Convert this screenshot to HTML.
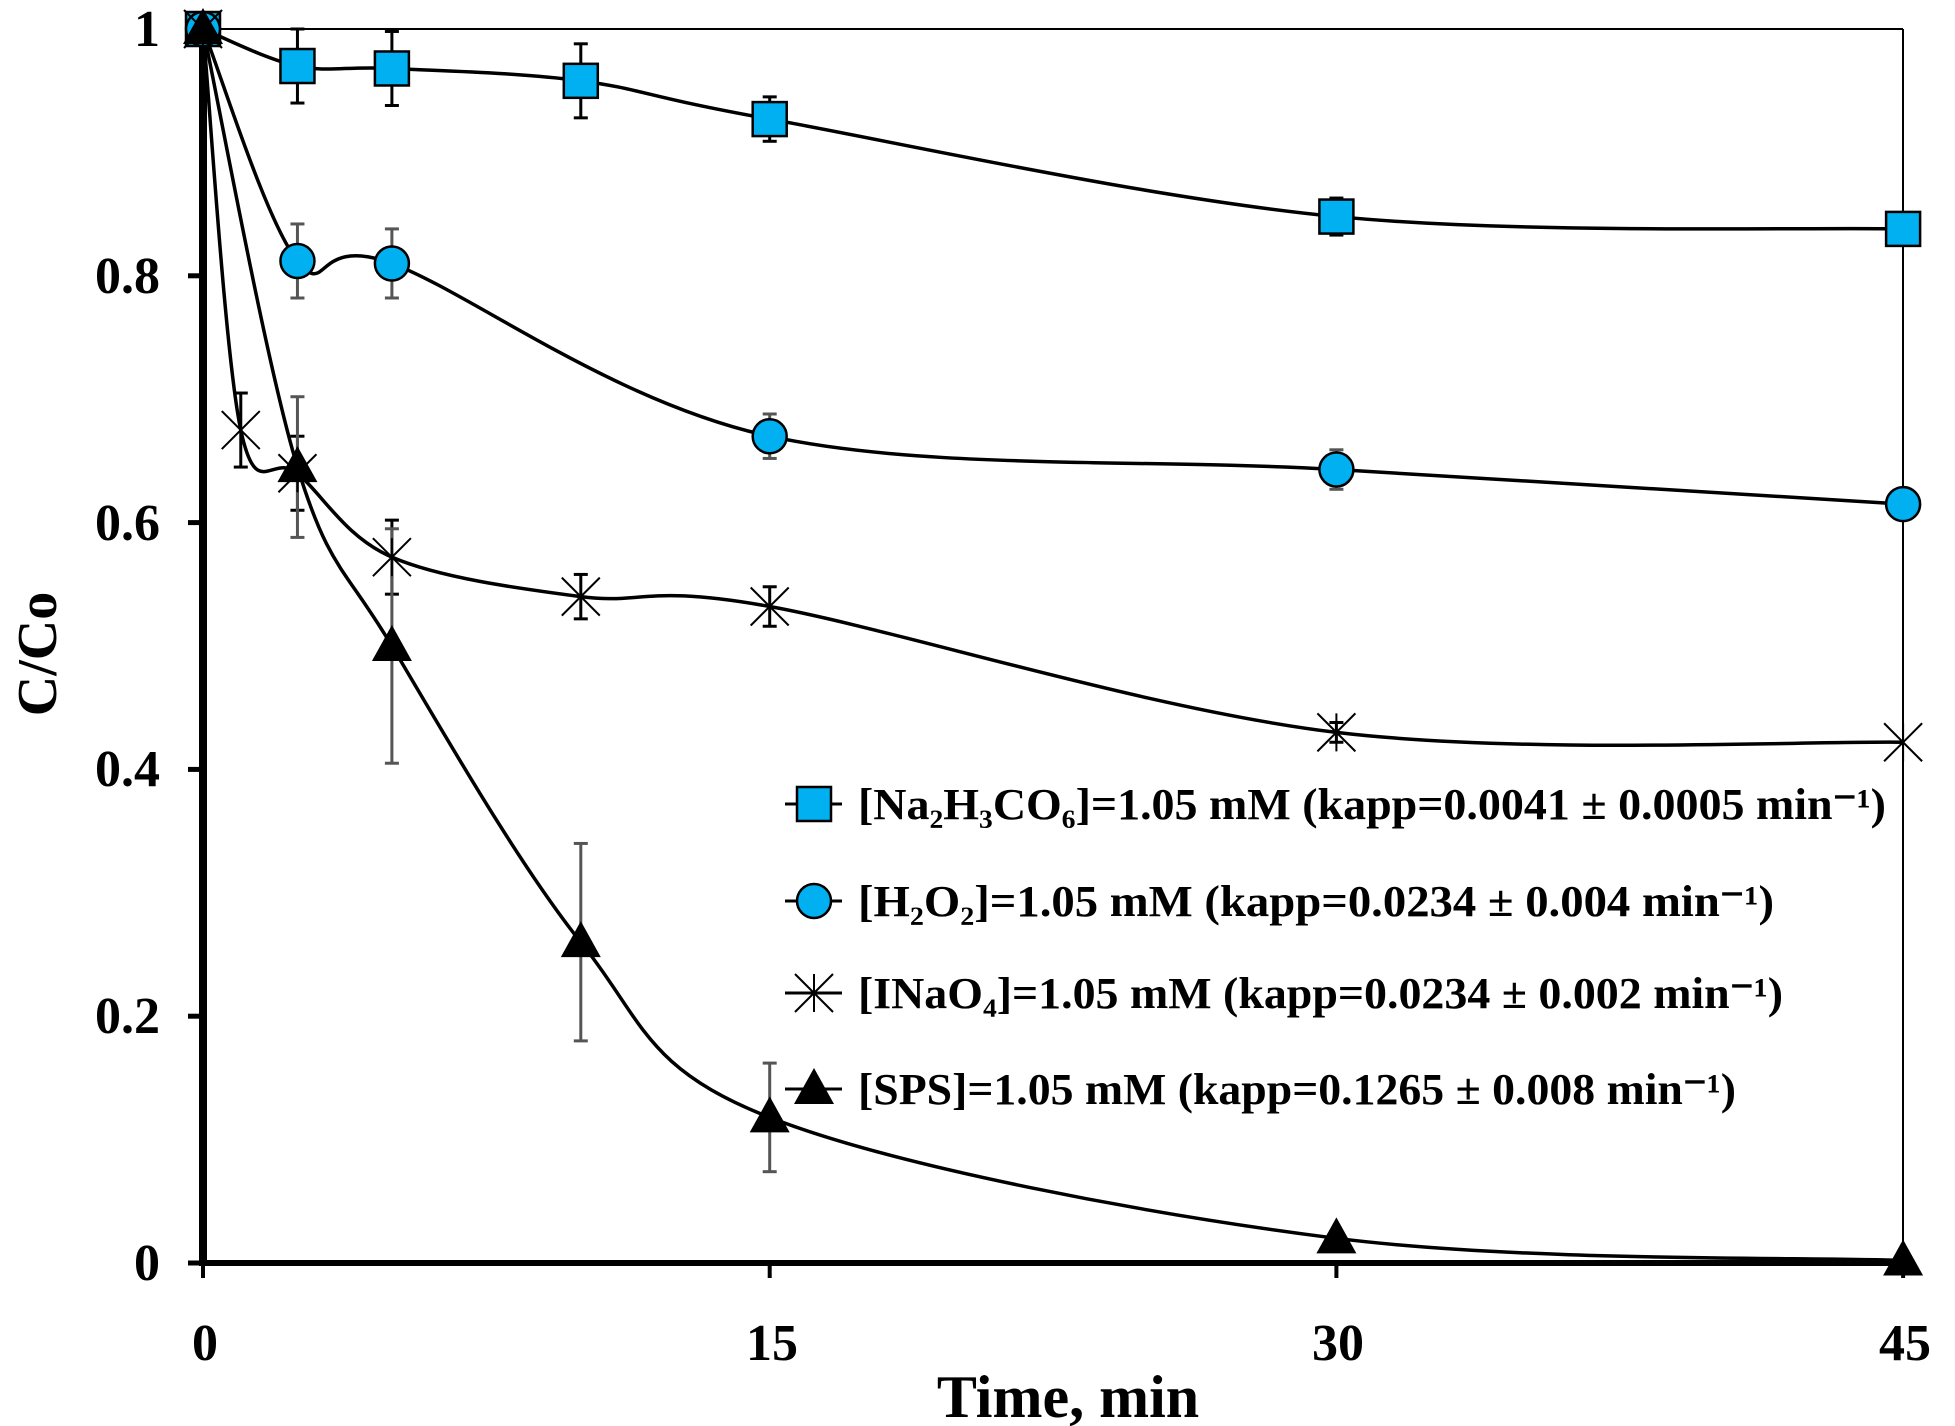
<!DOCTYPE html>
<html><head><meta charset="utf-8"><style>
body{margin:0;background:#fff}
svg{display:block}
text{font-family:"Liberation Serif",serif;font-weight:bold;fill:#000}
</style></head><body>
<svg id="s" width="1955" height="1426" viewBox="0 0 1955 1426" xmlns="http://www.w3.org/2000/svg">
<g id="g"></g>
<g font-size="52">
<text x="160" y="46" text-anchor="end">1</text>
<text x="160" y="293" text-anchor="end">0.8</text>
<text x="160" y="540" text-anchor="end">0.6</text>
<text x="160" y="786" text-anchor="end">0.4</text>
<text x="160" y="1033" text-anchor="end">0.2</text>
<text x="160" y="1280" text-anchor="end">0</text>
<text x="205" y="1360" text-anchor="middle">0</text>
<text x="772" y="1360" text-anchor="middle">15</text>
<text x="1338" y="1360" text-anchor="middle">30</text>
<text x="1905" y="1360" text-anchor="middle">45</text>
</g>
<text x="1068" y="1417" font-size="60" text-anchor="middle">Time, min</text>
<text transform="translate(56,654) rotate(-90)" font-size="56" text-anchor="middle">C/Co</text>
<g font-size="44">
<text x="858" y="819" textLength="1028" lengthAdjust="spacingAndGlyphs">[Na₂H₃CO₆]=1.05 mM (kapp=0.0041 ± 0.0005 min⁻¹)</text>
<text x="858" y="916" textLength="916" lengthAdjust="spacingAndGlyphs">[H₂O₂]=1.05 mM (kapp=0.0234 ± 0.004  min⁻¹)</text>
<text x="858" y="1008" textLength="925" lengthAdjust="spacingAndGlyphs">[INaO₄]=1.05 mM (kapp=0.0234 ± 0.002 min⁻¹)</text>
<text x="858" y="1104" textLength="878" lengthAdjust="spacingAndGlyphs">[SPS]=1.05 mM (kapp=0.1265 ± 0.008 min⁻¹)</text>
</g>
</svg>
<script>
var X=function(t){return 203+t*37.78},Y=function(v){return 1263-v*1234};
var g=document.getElementById('g'),h='';
h+='<line x1="203" y1="29" x2="1903" y2="29" stroke="#000" stroke-width="2"/>';
h+='<line x1="1903" y1="29" x2="1903" y2="1263" stroke="#000" stroke-width="2"/>';
h+='<line x1="203" y1="1263" x2="1903" y2="1263" stroke="#000" stroke-width="6"/>';
h+='<line x1="203" y1="29" x2="203" y2="1266" stroke="#000" stroke-width="8"/>';
for(var i=0;i<=5;i++){var y=Y(i*0.2);h+='<line x1="188" y1="'+y+'" x2="203" y2="'+y+'" stroke="#000" stroke-width="5"/>';}
[0,15,30,45].forEach(function(t){h+='<line x1="'+X(t)+'" y1="1263" x2="'+X(t)+'" y2="1278" stroke="#000" stroke-width="4"/>';});
function path(p){var s='M'+X(p[0][0])+','+Y(p[0][1]);
 for(var i=0;i<p.length-1;i++){var a=p[Math.max(i-1,0)],b=p[i],c=p[i+1],d=p[Math.min(i+2,p.length-1)];
  var bx=X(b[0]),by=Y(b[1]),cx=X(c[0]),cy=Y(c[1]);
  var c1x=bx+(cx-X(a[0]))/6,c1y=by+(cy-Y(a[1]))/6,c2x=cx-(X(d[0])-bx)/6,c2y=cy-(Y(d[1])-by)/6;
  s+=' C'+c1x+','+c1y+' '+c2x+','+c2y+' '+cx+','+cy;}
 return '<path d="'+s+'" fill="none" stroke="#000" stroke-width="3.5"/>';}
function eb(t,v,e,col){var x=X(t),y1=Y(v+e),y2=Y(v-e);
 return '<g stroke="'+col+'" stroke-width="3"><line x1="'+x+'" y1="'+y1+'" x2="'+x+'" y2="'+y2+'"/><line x1="'+(x-7)+'" y1="'+y1+'" x2="'+(x+7)+'" y2="'+y1+'"/><line x1="'+(x-7)+'" y1="'+y2+'" x2="'+(x+7)+'" y2="'+y2+'"/></g>';}
var na=[[0,1],[2.5,.97],[5,.968],[10,.958],[15,.927],[30,.848],[45,.838]],nae=[0,.03,.03,.03,.018,.015,0];
var hp=[[0,1],[2.5,.812],[5,.81],[15,.67],[30,.643],[45,.615]],hpe=[0,.03,.028,.018,.016,0];
var io=[[0,1],[1,.675],[2.5,.64],[5,.572],[10,.54],[15,.532],[30,.43],[45,.422]],ioe=[0,.03,.03,.03,.018,.016,.008,0];
var sp=[[0,1],[2.5,.645],[5,.5],[10,.26],[15,.118],[30,.02],[45,.002]],spe=[0,.057,.095,.08,.044,0,0];
h+=path(na)+path(hp)+path(io)+path(sp);
na.forEach(function(p,i){if(nae[i])h+=eb(p[0],p[1],nae[i],'#000');});
hp.forEach(function(p,i){if(hpe[i])h+=eb(p[0],p[1],hpe[i],'#555');});
io.forEach(function(p,i){if(ioe[i])h+=eb(p[0],p[1],ioe[i],'#000');});
sp.forEach(function(p,i){if(spe[i])h+=eb(p[0],p[1],spe[i],'#555');});
function sq(x,y){return '<rect x="'+(x-17)+'" y="'+(y-17)+'" width="34" height="34" fill="#00b0f0" stroke="#000" stroke-width="2.5"/>';}
function ci(x,y){return '<circle cx="'+x+'" cy="'+y+'" r="17" fill="#00b0f0" stroke="#000" stroke-width="2.5"/>';}
function st(x,y){var r=19;return '<g stroke="#000" stroke-width="2"><line x1="'+(x-r)+'" y1="'+(y-r)+'" x2="'+(x+r)+'" y2="'+(y+r)+'"/><line x1="'+(x-r)+'" y1="'+(y+r)+'" x2="'+(x+r)+'" y2="'+(y-r)+'"/><line x1="'+x+'" y1="'+(y-r)+'" x2="'+x+'" y2="'+(y+r)+'"/></g>';}
function tr(x,y){return '<polygon points="'+x+','+(y-21)+' '+(x+20)+','+(y+15)+' '+(x-20)+','+(y+15)+'" fill="#000"/>';}
na.forEach(function(p){h+=sq(X(p[0]),Y(p[1]));});
hp.forEach(function(p){h+=ci(X(p[0]),Y(p[1]));});
io.forEach(function(p){h+=st(X(p[0]),Y(p[1]));});
sp.forEach(function(p){h+=tr(X(p[0]),Y(p[1]));});
var ly=[804,901,993,1089];
ly.forEach(function(y){h+='<line x1="785" y1="'+y+'" x2="842" y2="'+y+'" stroke="#000" stroke-width="3"/>';});
h+=sq(814,804)+ci(814,901)+st(814,993)+tr(814,1089);
g.innerHTML=h;
</script>
</body></html>
